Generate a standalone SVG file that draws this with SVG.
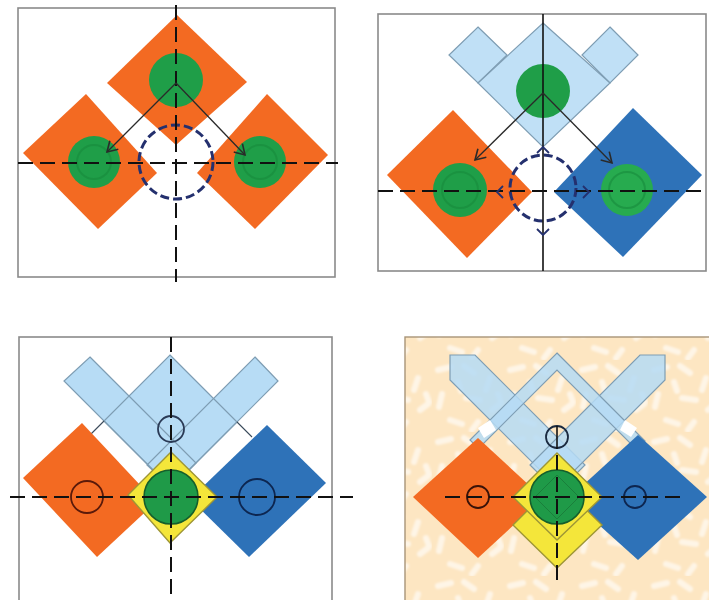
<svg xmlns="http://www.w3.org/2000/svg" width="709" height="600" viewBox="0 0 709 600">
<style>
.frame{fill:#fff;stroke:#8a8a8a;stroke-width:1.6}
.org{fill:#f36a22}
.blu{fill:#2e72b8}
.lb{fill:#b5dbf5;fill-opacity:0.85;stroke:#7e9db3;stroke-width:1.2}
.lbf{fill:#b7dcf5;stroke:none}
.lbo{fill:none;stroke:#7e9db3;stroke-width:1.2}
.grn{fill:#1f9e48}
.grn2{fill:#1f9a48;stroke:#155f2c;stroke-width:1.6}
.ring{fill:none;stroke:#188a3c;stroke-width:2;opacity:0.6}
.axis{stroke:#111;stroke-width:2;stroke-dasharray:15 7;fill:none}
.solid{stroke:#111;stroke-width:1.6;fill:none}
.dcirc{fill:none;stroke:#24306e;stroke-width:3;stroke-dasharray:9 4}
.arr{stroke:#2a2a2a;stroke-width:1.3;fill:none;marker-end:url(#ah)}
.chev{stroke:#24306e;stroke-width:1.8;fill:none}
.yel{fill:#f4e63a;stroke:#9e9636;stroke-width:1.4}
.sc{fill:none;stroke-width:1.8}
.thin{fill:none;stroke:#3a4a5a;stroke-width:1.1}
</style>
<defs>
<marker id="ah" markerUnits="userSpaceOnUse" markerWidth="14" markerHeight="14" refX="11" refY="7" orient="auto">
<path d="M1,1 L11,7 L1,13" fill="none" stroke="#2a2a2a" stroke-width="1.6"/>
</marker>
<filter id="soft" x="-10%" y="-10%" width="120%" height="120%">
<feGaussianBlur stdDeviation="1.3"/>
</filter>
<pattern id="tex" width="72" height="72" patternUnits="userSpaceOnUse">
<rect width="72" height="72" fill="#fde6c2"/>
<g stroke="#fff" stroke-width="6" stroke-linecap="round" opacity="0.6" fill="none" filter="url(#soft)">
<path d="M6,10 l13,-3"/><path d="M32,6 l10,7"/><path d="M58,18 l-4,12"/><path d="M10,34 l-3,13"/>
<path d="M34,38 l14,2"/><path d="M60,50 l8,-6"/><path d="M18,60 l12,4"/><path d="M46,62 l-6,8"/>
<path d="M26,22 l3,9"/><path d="M66,34 l3,8"/>
</g>
</pattern>
</defs>

<!-- Panel 1 -->
<g id="panel1">
<rect class="frame" x="18" y="8" width="317" height="269"/>
<g id="p1-top">
<polygon class="org" points="177,15 247,82 176,145 107,83"/>
<circle class="grn" cx="176" cy="80" r="27"/>
</g>
<g id="p1-left">
<polygon class="org" points="86,94 157,173 98,229 23,153"/>
<circle class="grn" cx="94" cy="162" r="26"/>
<circle class="ring" cx="94" cy="162" r="17"/>
</g>
<g id="p1-right">
<polygon class="org" points="267,94 328,155 255,229 197,173"/>
<circle class="grn" cx="260" cy="162" r="26"/>
<circle class="ring" cx="260" cy="162" r="17"/>
</g>
<g id="p1-connectors">
<circle class="dcirc" cx="176" cy="162" r="37"/>
<line class="axis" x1="176" y1="5" x2="176" y2="282"/>
<line class="axis" x1="18" y1="163" x2="338" y2="163"/>
<line class="arr" x1="176" y1="83" x2="107" y2="152"/>
<line class="arr" x1="176" y1="83" x2="245" y2="155"/>
</g>
</g>

<!-- Panel 2 -->
<g id="panel2">
<rect class="frame" x="378" y="14" width="328" height="257"/>
<g id="p2-lightblue">
<polygon class="lb" points="478,27 507,55 478,83 449,55"/>
<polygon class="lb" points="610,27 638,55 610,83 582,55"/>
<polygon class="lb" points="543,23 610,83 543,147 478,83"/>
<circle class="grn" cx="543" cy="91" r="27"/>
</g>
<g id="p2-left">
<polygon class="org" points="453,110 532,192 467,258 387,175"/>
<circle class="grn" cx="460" cy="190" r="27"/>
<circle class="ring" cx="460" cy="190" r="18"/>
</g>
<g id="p2-right">
<polygon class="blu" points="633,108 702,175 623,257 554,192"/>
<circle fill="#27ab4f" cx="627" cy="190" r="26"/>
<circle class="ring" cx="627" cy="190" r="18"/>
</g>
<g id="p2-connectors">
<circle class="dcirc" cx="543" cy="188" r="33"/>
<line class="solid" x1="543" y1="14" x2="543" y2="271"/>
<line class="axis" x1="378" y1="191" x2="706" y2="191"/>
<line class="arr" x1="543" y1="93" x2="475" y2="160"/>
<line class="arr" x1="543" y1="93" x2="612" y2="163"/>
<path class="chev" d="M503,186 L497,192 L503,198"/>
<path class="chev" d="M583,186 L589,192 L583,198"/>
<path class="chev" d="M537,153 L543,147 L549,153"/>
<path class="chev" d="M537,229 L543,235 L549,229"/>
</g>
</g>

<!-- Panel 3 -->
<g id="panel3">
<rect class="frame" x="19" y="337" width="313" height="280"/>
<g id="p3-lightblue">
<polygon class="lbf" points="170,355 237,422 171,488 104,421"/>
<polygon class="lbf" points="90,357 196,463 171,488 64,381"/>
<polygon class="lbf" points="255,357 278,381 171,488 147,465"/>
<polygon class="lbo" points="170,355 237,422 171,488 104,421"/>
<polygon class="lbo" points="90,357 196,463 171,488 64,381"/>
<polygon class="lbo" points="255,357 278,381 171,488 147,465"/>
<line class="thin" x1="104" y1="421" x2="83" y2="442"/>
<line class="thin" x1="237" y1="422" x2="252" y2="437"/>
</g>
<g id="p3-left">
<polygon class="org" points="82,423 156,502 97,557 23,478"/>
<circle class="sc" stroke="#5a1a0a" cx="87" cy="497" r="16"/>
</g>
<g id="p3-right">
<polygon class="blu" points="267,425 326,483 249,557 190,499"/>
<circle class="sc" stroke="#0d2650" cx="257" cy="497" r="18"/>
</g>
<g id="p3-center">
<polygon class="yel" points="171,452 217,497 170,543 128,495"/>
<circle class="grn2" cx="171" cy="497" r="27"/>
</g>
<g id="p3-top">
<circle class="sc" stroke="#2a3a55" cx="171" cy="429" r="13"/>
</g>
<g id="p3-connectors">
<line class="axis" x1="171" y1="337" x2="171" y2="600" stroke-dasharray="18 8"/>
<line class="axis" x1="10" y1="497" x2="353" y2="497"/>
</g>
</g>

<!-- Panel 4 -->
<g id="panel4">
<rect x="405" y="337" width="310" height="280" fill="url(#tex)" stroke="#a89478" stroke-width="1.4"/>
<g id="p4-lightblue">
<polygon class="lb" points="450,355 475,355 585,465 560,490 450,380"/>
<polygon class="lb" points="665,355 640,355 530,465 555,490 665,380"/>
<polygon class="lb" points="557,353 645,441 636.5,449.5 557,370 478.5,448.5 470,440"/>
<polygon fill="#fff" points="478,428 490,420 496,430 484,438"/>
<polygon fill="#fff" points="625,420 637,428 631,437 620,430"/>
</g>
<g id="p4-left">
<polygon class="org" points="478,438 543,498 478,558 413,497"/>
<circle class="sc" stroke="#3a1208" cx="478" cy="497" r="11"/>
</g>
<g id="p4-right">
<polygon class="blu" points="638,435 707,497 638,560 569,498"/>
<circle class="sc" stroke="#0d2650" cx="635" cy="497" r="11"/>
</g>
<g id="p4-center">
<polygon class="yel" points="557,481 602,525 557,568 513,525"/>
<polygon class="yel" points="557,453 602,497 557,540 513,497"/>
<circle class="grn2" cx="557" cy="497" r="27"/>
<polygon fill="none" stroke="#155f2c" stroke-width="1" opacity="0.45" points="557,475 579,497 557,519 535,497"/>
</g>
<g id="p4-top">
<circle class="sc" stroke="#1a2a40" cx="557" cy="437" r="11"/>
</g>
<g id="p4-connectors">
<line class="solid" x1="557" y1="426" x2="557" y2="449"/>
<line class="axis" x1="557" y1="455" x2="557" y2="582" stroke-dasharray="20 8"/>
<line class="axis" x1="445" y1="497" x2="687" y2="497"/>
</g>
</g>
</svg>
